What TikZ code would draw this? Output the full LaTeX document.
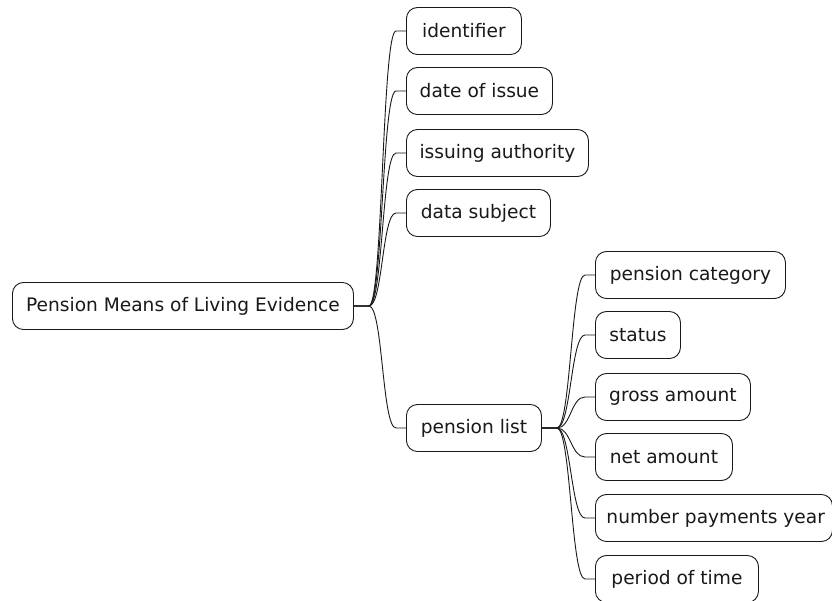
\documentclass[tikz,border=0pt]{standalone}
\usepackage{fontspec}
\setmainfont{DejaVu Sans}
\begin{document}
\begin{tikzpicture}[x=1pt,y=-1pt,
  box/.style={draw=black!90,line width=0.9pt,fill=white,rounded corners=11pt,
    minimum height=47pt,inner xsep=0pt,anchor=west,font=\fontsize{18.6}{21}\selectfont,text=black!90},
  conn/.style={draw=black!90,line width=0.9pt}]
\clip (0,0) rectangle (832,600);
\fill[white] (0,0) rectangle (832,600);
\node[box,minimum width=341pt] (root) at (12,306) {Pension Means of Living Evidence};
\node[box,minimum width=115pt] (a) at (406,31) {identifier};
\node[box,minimum width=146pt] (b) at (406,91) {date of issue};
\node[box,minimum width=182pt] (c) at (406,153) {issuing authority};
\node[box,minimum width=144pt] (d) at (406,213) {data subject};
\node[box,minimum width=135pt] (e) at (406,428) {pension list};
\node[box,minimum width=190pt] (e1) at (595,275) {pension category};
\node[box,minimum width=85pt] (e2) at (595,335) {status};
\node[box,minimum width=155pt] (e3) at (595,397) {gross amount};
\node[box,minimum width=137pt] (e4) at (595,457) {net amount};
\node[box] (e5) at (595,518) {\makebox[237pt][l]{\hspace{11pt}number payments year}};
\node[box,minimum width=163pt] (e6) at (595,579) {period of time};
\foreach \c in {a,b,c,d,e}{
  \draw[conn] (root.east) -- ++(15,0) .. controls ++(14,0) and ([xshift=-24pt]\c.west) .. ([xshift=-10pt]\c.west) -- (\c.west);
}
\foreach \c in {e1,e2,e3,e4,e5,e6}{
  \draw[conn] (e.east) -- ++(15,0) .. controls ++(14,0) and ([xshift=-24pt]\c.west) .. ([xshift=-10pt]\c.west) -- (\c.west);
}
\end{tikzpicture}
\end{document}
